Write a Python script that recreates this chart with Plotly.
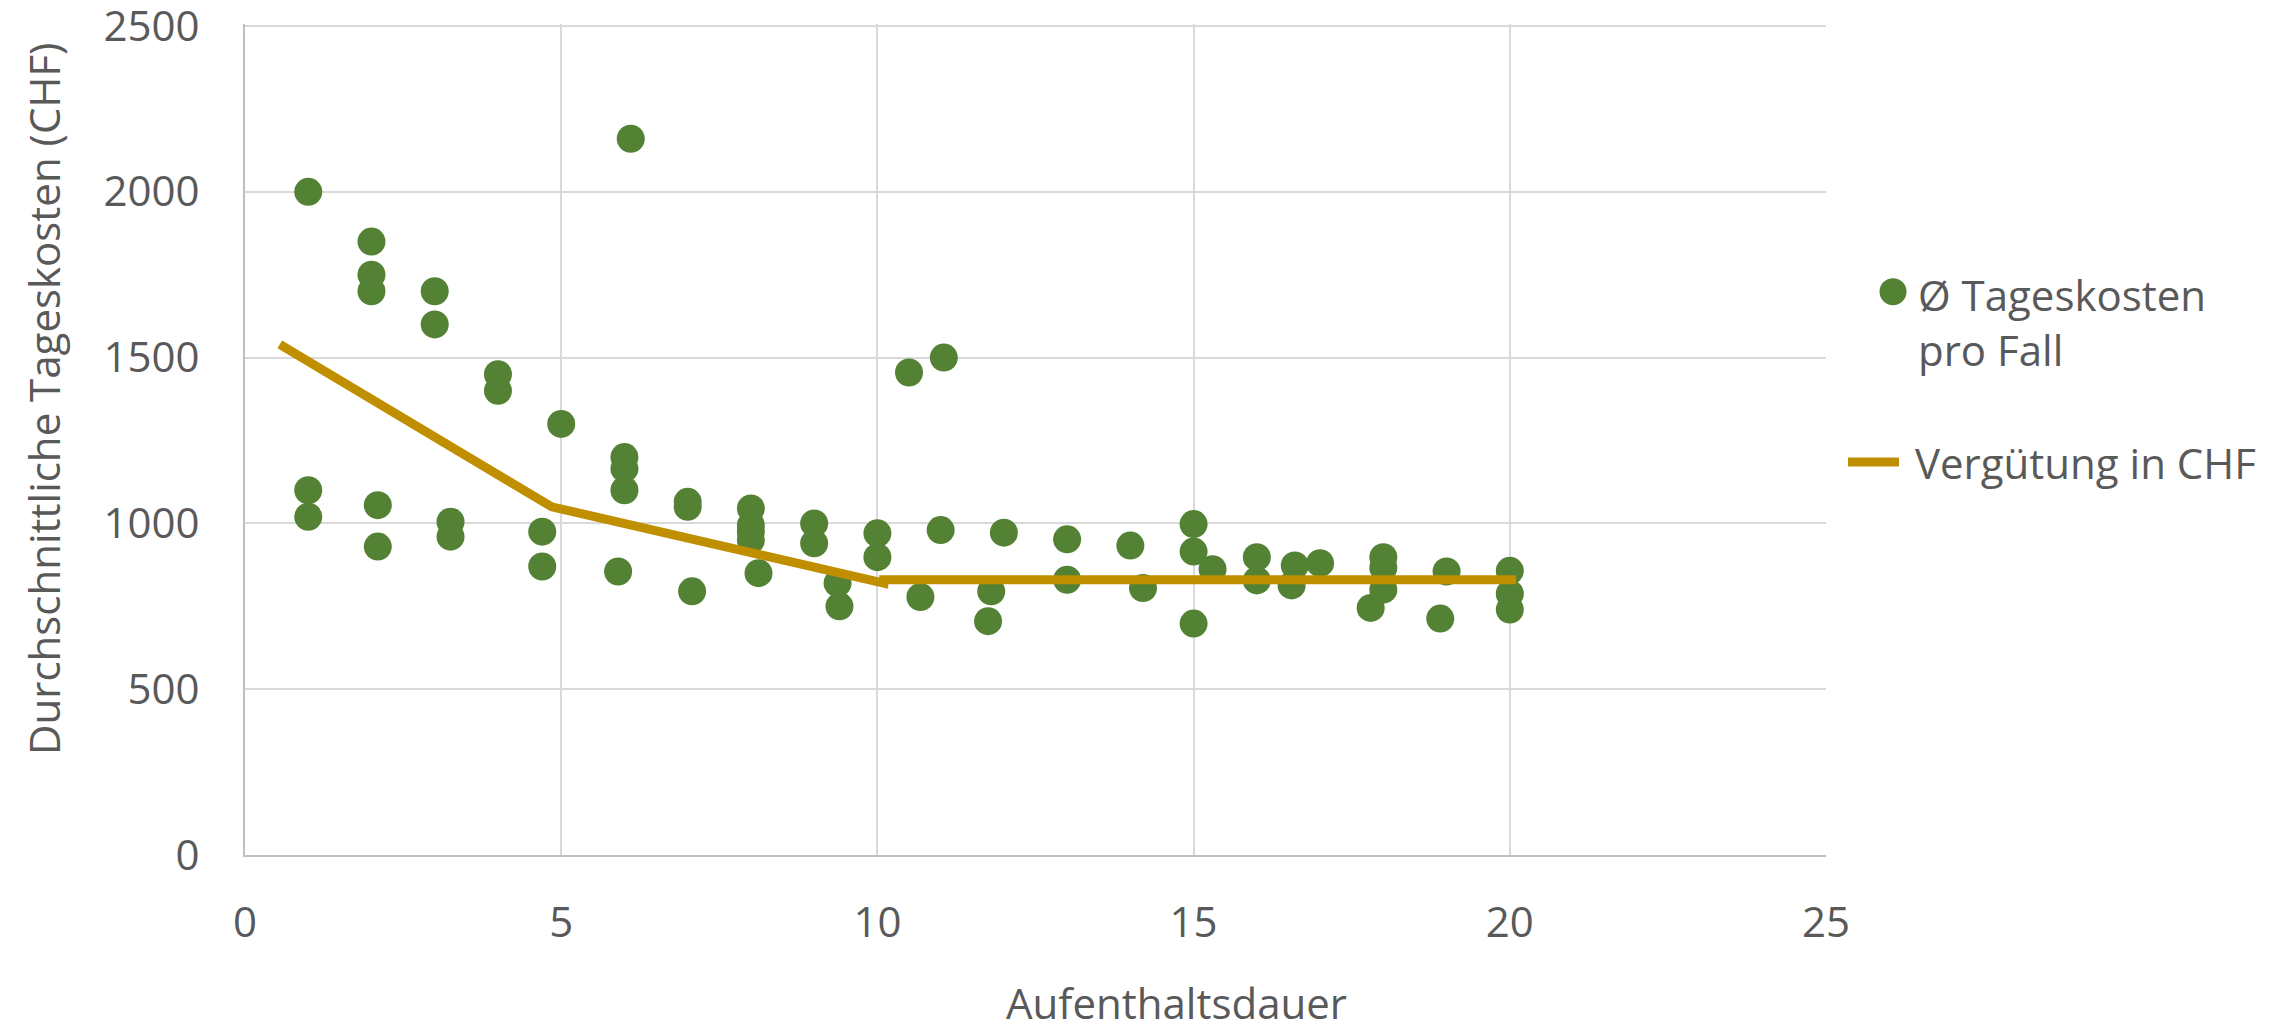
import plotly.graph_objects as go

# Scatter: average daily cost per case
x_cost = [1, 1, 1, 2, 2, 2, 2.1, 2.1, 3, 3, 3.25, 3.25, 4, 4, 4.7, 4.7, 5, 5.9,
          6, 6, 6, 6.1, 7, 7, 7.07, 8, 8, 8, 8, 8.12, 9, 9, 9.37, 9.4, 10, 10,
          10.5, 10.68, 11, 11.05, 11.8, 11.75, 12, 13, 13, 14, 14.2, 15, 15, 15,
          15.3, 16, 16, 16.6, 16.55, 17, 18, 18, 18, 17.8, 19, 18.9, 20, 20, 20]
y_cost = [2000, 1100, 1020, 1850, 1750, 1700, 1055, 930, 1700, 1600, 1005, 960,
          1450, 1400, 975, 870, 1300, 855, 1200, 1165, 1100, 2160, 1065, 1050, 795,
          1045, 995, 975, 950, 850, 1000, 940, 820, 750, 970, 898, 1455, 778, 980,
          1500, 795, 705, 972, 952, 830, 933, 805, 998, 915, 698, 862, 898, 828,
          873, 813, 880, 898, 866, 800, 745, 855, 713, 857, 788, 740]

# Line: reimbursement
x_verg = [0.55, 4.85, 10.1, 10.1, 20.1]
y_verg = [1540, 1050, 820, 830, 830]

x_ticks = [0, 5, 10, 15, 20, 25]
y_ticks = [0, 500, 1000, 1500, 2000, 2500]

name_cost = "Ø Tageskosten<br>pro Fall"
name_verg = "Vergütung in CHF"
x_title = "Aufenthaltsdauer"
y_title = "Durchschnittliche Tageskosten (CHF)"

FONT = "Open Sans, Lato, DejaVu Sans, sans-serif"
TXT = "#595959"
GRID = "#D9D9D9"
GREEN = "#548235"
GOLD = "#BF8F00"
FS = 42

fig = go.Figure()
fig.add_trace(go.Scatter(
    x=x_cost, y=y_cost, mode="markers", name=name_cost,
    marker=dict(color=GREEN, size=28, line=dict(width=0)),
))
fig.add_trace(go.Scatter(
    x=x_verg, y=y_verg, mode="lines", name=name_verg,
    line=dict(color=GOLD, width=9),
))

# the page body has an 8px margin, so margins are shifted by 8px
fig.update_layout(
    width=2285, height=1028,
    margin=dict(l=237, r=467, t=16, b=181),
    paper_bgcolor="white", plot_bgcolor="white",
    font=dict(family=FONT, size=FS, color=TXT),
    showlegend=False,
)
fig.update_xaxes(
    range=[0, 25], tickvals=x_ticks, showgrid=True, gridcolor=GRID, gridwidth=2,
    showline=True, linecolor="#BFBFBF", linewidth=2, zeroline=False,
    ticks="", ticklabelstandoff=30, automargin=False, ticklabeloverflow="allow",
    tickfont=dict(family=FONT, size=FS, color=TXT),
)
fig.update_yaxes(
    range=[0, 2506], tickvals=y_ticks, showgrid=True, gridcolor=GRID, gridwidth=2,
    showline=True, linecolor="#BFBFBF", linewidth=2, zeroline=False,
    ticks="", ticklabelstandoff=35, automargin=False, ticklabeloverflow="allow",
    tickfont=dict(family=FONT, size=FS, color=TXT),
)

# Axis titles (positioned like the reference)
fig.add_annotation(text=x_title, xref="paper", yref="paper", x=0.5889, y=-0.1775,
                   xanchor="center", yanchor="middle", showarrow=False,
                   font=dict(family=FONT, size=FS, color=TXT))
fig.add_annotation(text=y_title, xref="paper", yref="paper", x=-0.1271, y=0.5489,
                   xanchor="center", yanchor="middle", showarrow=False, textangle=-90,
                   font=dict(family=FONT, size=FS, color=TXT))

# Legend (drawn manually to match marker/line symbol sizes)
fig.add_shape(type="circle", xref="paper", yref="paper", xsizemode="pixel", ysizemode="pixel",
              xanchor=1.0424, yanchor=0.6779, x0=-13.5, x1=13.5, y0=-13.5, y1=13.5,
              fillcolor=GREEN, line=dict(width=0))
fig.add_shape(type="line", xref="paper", yref="paper", x0=1.0139, x1=1.0462, y0=0.4729, y1=0.4729,
              line=dict(color=GOLD, width=9))
fig.add_annotation(text=name_cost, xref="paper", yref="paper", x=1.0569, y=0.6417,
                   xanchor="left", yanchor="middle", align="left", showarrow=False,
                   font=dict(family=FONT, size=FS, color=TXT))
fig.add_annotation(text=name_verg, xref="paper", yref="paper", x=1.0550, y=0.4729,
                   xanchor="left", yanchor="middle", align="left", showarrow=False,
                   font=dict(family=FONT, size=FS, color=TXT))

fig.write_html("out.html")
